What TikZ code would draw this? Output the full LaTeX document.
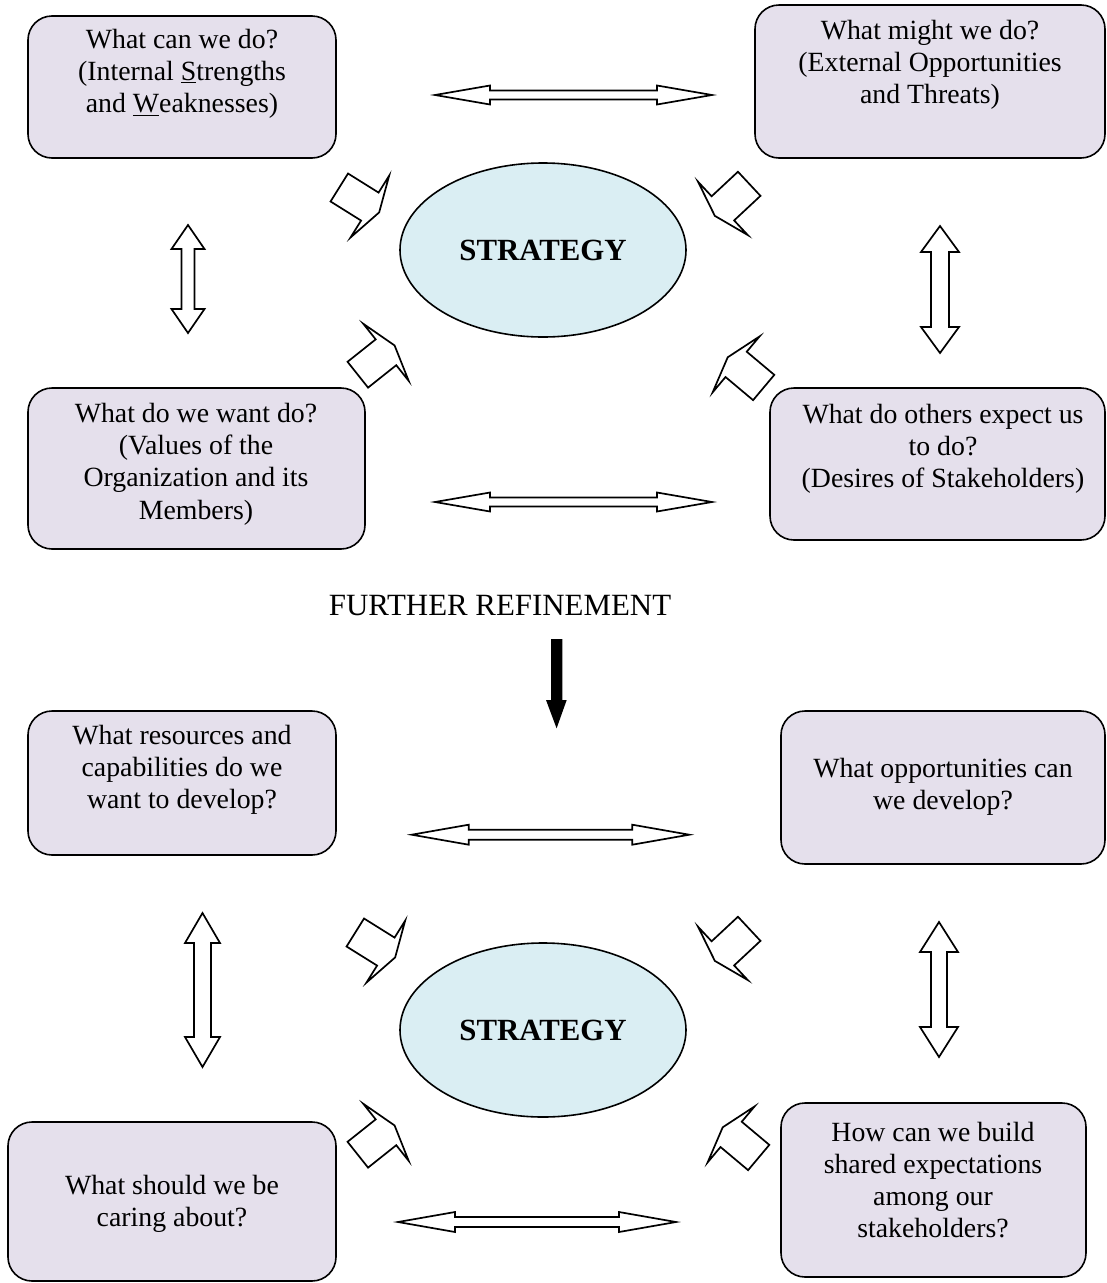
\documentclass[tikz,border=0pt]{standalone}
\usepackage{fontspec}
\setmainfont{Liberation Serif}
\usetikzlibrary{shapes.geometric}
\definecolor{boxfill}{RGB}{229,224,236}
\definecolor{ovalfill}{RGB}{218,238,243}
\tikzset{
  qbox/.style={draw=black, line width=1.6pt, fill=boxfill, rounded corners=24pt, inner sep=0pt},
  qtext/.style={align=center, inner sep=0pt, font=\fontsize{27.8}{32.3}\selectfont},
  oval/.style={ellipse, draw=black, line width=1.6pt, fill=ovalfill, inner sep=0pt,
    minimum width=286pt, minimum height=174pt, font=\fontsize{30.8}{36}\selectfont\bfseries},
  arrowline/.style={draw=black, line width=1.7pt, fill=white, line join=miter},
  % short, wide block arrow; origin at the middle of its tail
  pics/fatarrow/.style={code={
    \draw[arrowline] (0pt,-16.5pt) -- (36pt,-16.5pt) -- (36pt,-36.5pt) -- (47pt,0pt)
      -- (36pt,36.5pt) -- (36pt,16.5pt) -- (0pt,16.5pt) -- cycle;}},
  % double-headed block arrow: length / head length / head half-width / shaft half-width
  pics/dblarrow/.style n args={4}{code={
    \draw[arrowline] (0pt,0pt) -- (#2pt,#3pt) -- (#2pt,#4pt) -- ({(#1-#2)*1pt},#4pt)
      -- ({(#1-#2)*1pt},#3pt) -- (#1pt,0pt) -- ({(#1-#2)*1pt},-#3pt)
      -- ({(#1-#2)*1pt},-#4pt) -- (#2pt,-#4pt) -- (#2pt,-#3pt) -- cycle;}}
}
\begin{document}
\begin{tikzpicture}[x=1pt,y=-1pt]
\useasboundingbox (0,0) rectangle (1107,1283);

% ---------- first level ----------
\node[qbox, minimum width=308pt, minimum height=142pt] (tl) at (182,87) {};
\node[qtext] (tlt) at (182,74) {What can we do?\\(Internal \underline{S}trengths\\and \underline{W}eaknesses)};

\node[qbox, minimum width=350pt, minimum height=153pt] (tr) at (930,81.5) {};
\node[qtext] (trt) at (930,65) {What might we do?\\(External Opportunities\\and Threats)};

\node[qbox, minimum width=337pt, minimum height=161pt] (bl) at (196.5,468.5) {};
\node[qtext] (blt) at (196,464) {What do we want do?\\(Values of the\\Organization and its\\Members)};

\node[qbox, minimum width=335pt, minimum height=152pt] (br) at (937.5,464) {};
\node[qtext] (brt) at (943,449) {What do others expect us\\to do?\\(Desires of Stakeholders)};

\node[oval] (s1) at (543,250) {STRATEGY};

\pic at (435,95) {dblarrow={277}{55}{9.5}{4.5}};
\pic at (435,502) {dblarrow={277}{55}{9.5}{4.5}};
\pic[rotate=-90] at (188,225) {dblarrow={108}{24}{16.5}{6.5}};
\pic[rotate=-90] at (940,226) {dblarrow={127}{26}{19}{9}};

\pic[rotate=-32]  at (339.3,187.5) {fatarrow};
\pic[rotate=-137] at (749.2,183.8) {fatarrow};
\pic[rotate=38.5] at (357.8,374.7) {fatarrow};
\pic[rotate=140]  at (763.7,387.5) {fatarrow};

% ---------- refinement ----------
\node[font=\fontsize{30.9}{36}\selectfont, inner sep=0pt] (ref) at (500,606) {FURTHER REFINEMENT};
\fill[black] (551,639) -- (562.3,639) -- (562.3,700) -- (566.7,700) -- (556.6,728.3)
  -- (546,700) -- (551,700) -- cycle;

% ---------- second level ----------
\node[qbox, minimum width=308pt, minimum height=144pt] (btl) at (182,783) {};
\node[qtext] (btlt) at (182,770) {What resources and\\capabilities do we\\want to develop?};

\node[qbox, minimum width=324pt, minimum height=153pt] (btr) at (943,787.5) {};
\node[qtext] (btrt) at (943,787) {What opportunities can\\we develop?};

\node[qbox, minimum width=328pt, minimum height=159pt] (bbl) at (172,1201.5) {};
\node[qtext] (bblt) at (172,1204) {What should we be\\caring about?};

\node[qbox, minimum width=305pt, minimum height=174pt] (bbr) at (933.5,1190) {};
\node[qtext] (bbrt) at (933,1180) {How can we build\\shared expectations\\among our\\stakeholders?};

\node[oval] (s2) at (543,1030) {STRATEGY};

\pic at (411.7,834.7) {dblarrow={277.6}{57}{10}{5}};
\pic at (398,1222) {dblarrow={278}{57}{10}{5}};
\pic[rotate=-90] at (202.5,913) {dblarrow={154}{30}{17.5}{8.5}};
\pic[rotate=-90] at (939,922) {dblarrow={135}{30}{19}{8}};

\pic[rotate=-32]  at (355.3,932.5) {fatarrow};
\pic[rotate=-137] at (749.2,928.8) {fatarrow};
\pic[rotate=38.5] at (357.8,1154.7) {fatarrow};
\pic[rotate=140]  at (758.7,1157.5) {fatarrow};
\end{tikzpicture}
\end{document}
